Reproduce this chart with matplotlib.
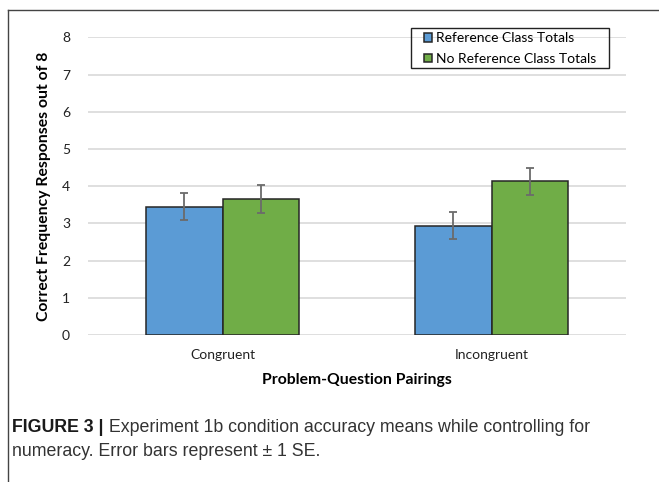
import numpy as np
import matplotlib.pyplot as plt
from matplotlib.lines import Line2D
from matplotlib.patches import Rectangle

plt.rcParams['font.family'] = ['Lato', 'DejaVu Sans']

categories = ['Congruent', 'Incongruent']
series = ['Reference Class Totals', 'No Reference Class Totals']
ref_means = [3.45, 2.94]
noref_means = [3.66, 4.13]
ref_se = [0.37, 0.37]
noref_se = [0.37, 0.37]
yticks = [0, 1, 2, 3, 4, 5, 6, 7, 8]

blue = '#5B9BD5'
green = '#70AD47'

fig = plt.figure(figsize=(6.59, 4.82), dpi=100)
ax = fig.add_axes([88/659, 1-335/482, (626-88)/659, (335-37.3)/482])

x = np.arange(len(categories))
w = 0.286
err_kw = dict(ecolor='#6b6b6b', elinewidth=1.3, capsize=3, capthick=1.3)
ax.bar(x - w/2, ref_means, w, color=blue, edgecolor='#262626', linewidth=1.1,
       yerr=ref_se, error_kw=err_kw, label=series[0], zorder=3)
ax.bar(x + w/2, noref_means, w, color=green, edgecolor='#262626', linewidth=1.1,
       yerr=noref_se, error_kw=err_kw, label=series[1], zorder=3)

ax.set_xlim(-0.5, 1.5)
ax.set_ylim(0, 8)
ax.set_yticks(yticks)
ax.set_xticks(x)
ax.set_xticklabels(categories, fontsize=10, color='#222222')
ax.tick_params(axis='y', labelsize=10, labelcolor='#222222', length=0, pad=13)
ax.tick_params(axis='x', length=0, pad=10)
ax.grid(axis='y', color='#d9d9d9', linewidth=1.2, zorder=0)
for s in ax.spines.values():
    s.set_visible(False)

ax.set_xlabel('Problem-Question Pairings', fontsize=11.3, fontweight='bold', labelpad=9)
ax.set_ylabel('Correct Frequency Responses out of 8', fontsize=11.3, fontweight='bold', labelpad=8)

# legend entries without frame, box drawn separately
leg = ax.legend(loc='upper left', bbox_to_anchor=(424/659, 1-32.5/482),
                bbox_transform=fig.transFigure, fontsize=10, frameon=False,
                handlelength=0.6, handleheight=0.6, handletextpad=0.3,
                borderpad=0, labelspacing=0.6, borderaxespad=0)
for h in leg.legend_handles:
    h.set_edgecolor('#262626')
fig.add_artist(Rectangle((411/659, 1-67.7/482), (609-411)/659, (67.7-28.3)/482,
                         transform=fig.transFigure, facecolor='none',
                         edgecolor='#222222', linewidth=1.0))

# panel border on the left and top
fig.add_artist(Line2D([8/659, 8/659], [0, 1-10/482], transform=fig.transFigure,
                      color='#444444', linewidth=1.0))
fig.add_artist(Line2D([8/659, 1], [1-10/482, 1-10/482], transform=fig.transFigure,
                      color='#444444', linewidth=1.0))

cap_font = ['Liberation Sans', 'DejaVu Sans']
t1 = fig.text(12/659, 1-427/482, 'FIGURE 3 |', fontsize=12.8, fontweight='bold',
              family=cap_font, va='center', color='#1a1a1a')
ax.annotate(' Experiment 1b condition accuracy means while controlling for',
            xy=(1, 0), xycoords=t1, va='bottom', ha='left', fontsize=12.8,
            family=cap_font, color='#333333', annotation_clip=False)
fig.text(12/659, 1-451/482, 'numeracy. Error bars represent \u00b1 1 SE.', fontsize=12.8,
         family=cap_font, va='center', color='#333333')

fig.savefig('out.png', dpi=100)
